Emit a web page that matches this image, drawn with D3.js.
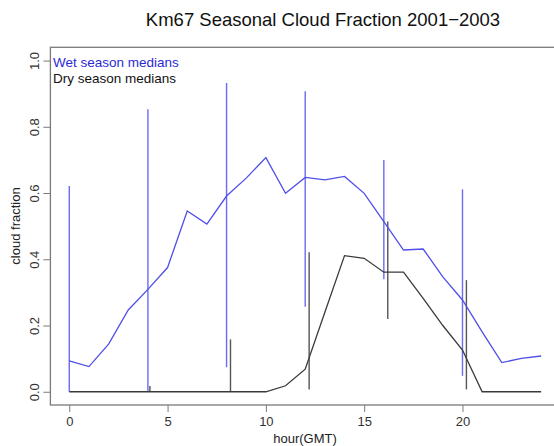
<!DOCTYPE html>
<html>
<head>
<meta charset="utf-8">
<script src="https://cdn.jsdelivr.net/npm/d3@7"></script>
<style>
  html, body { margin: 0; padding: 0; background: #fff; }
  svg { display: block; font-family: "Liberation Sans", Arial, sans-serif; }
</style>
</head>
<body>
<svg id="chart" width="554" height="446"></svg>
<script>
const hours = [0,1,2,3,4,5,6,7,8,9,10,11,12,13,14,15,16,17,18,19,20,21,22,23,24];
const wetMedian = [0.093,0.076,0.144,0.247,0.309,0.375,0.546,0.506,0.591,0.645,0.707,0.599,0.647,0.640,0.650,0.599,0.514,0.428,0.431,0.347,0.277,0.181,0.088,0.101,0.108];
const dryMedian = [0,0,0,0,0,0,0,0,0,0,0,0.018,0.068,0.24,0.411,0.403,0.361,0.361,0.282,0.20,0.126,0,0,0,0];
const wetBarHour = [0,4,8,12,16,20];
const wetBarLow  = [0,0,0.074,0.257,0.34,0.048];
const wetBarHigh = [0.621,0.853,0.932,0.907,0.70,0.611];
const dryBarHour = [4.1,8.2,12.2,16.2,20.2];
const dryBarLow  = [0,0,0.007,0.22,0.007];
const dryBarHigh = [0.017,0.158,0.421,0.514,0.337];
const xTicks = [0,5,10,15,20];
const yTicks = [0.0,0.2,0.4,0.6,0.8,1.0];
const titleText = "Km67 Seasonal Cloud Fraction 2001\u22122003";
const xLabel = "hour(GMT)";
const yLabel = "cloud fraction";
const legendLabels = ["Wet season medians","Dry season medians"];

const blue = "#4f4fe8", barBlue = "#6a6af5", dark = "#3a3a3a", axisGray = "#7a7a7a";
const svg = d3.select("#chart");

const x = d3.scaleLinear().domain([-0.96, 24.96]).range([50.4, 560]);
const y = d3.scaleLinear().domain([-0.04, 1.04]).range([405, 47.3]);

// box
svg.append("rect").attr("x", x(-0.96)).attr("y", y(1.04))
  .attr("width", x(24.96) - x(-0.96)).attr("height", y(-0.04) - y(1.04))
  .attr("fill", "none").attr("stroke", axisGray).attr("stroke-width", 1.3);

// axes
const xAxis = d3.axisBottom(x).tickValues(xTicks).tickFormat(d3.format("d")).tickSize(7).tickPadding(5);
const gx = svg.append("g").attr("transform", `translate(0,${y(-0.04)})`).call(xAxis);
gx.select(".domain").remove();
gx.selectAll("line").attr("stroke", axisGray);
gx.selectAll("text").attr("font-size", 13).attr("fill", "#333").attr("font-family", "Liberation Sans, Arial, sans-serif");

const yAxis = d3.axisLeft(y).tickValues(yTicks).tickFormat(d3.format(".1f")).tickSize(7).tickPadding(4);
const gy = svg.append("g").attr("transform", `translate(${x(-0.96)},0)`).call(yAxis);
gy.select(".domain").remove();
gy.selectAll("line").attr("stroke", axisGray);
gy.selectAll("text").attr("font-size", 13).attr("fill", "#333")
  .attr("font-family", "Liberation Sans, Arial, sans-serif")
  .attr("text-anchor", "middle").attr("dy", null).attr("x", null)
  .attr("transform", "translate(-16,0) rotate(-90)").attr("dy", "0.35em");

// error bars
svg.append("g").selectAll("line").data(wetBarHour).join("line")
  .attr("x1", d => x(d)).attr("x2", d => x(d))
  .attr("y1", (d,i) => y(wetBarLow[i])).attr("y2", (d,i) => y(wetBarHigh[i]))
  .attr("stroke", barBlue).attr("stroke-width", 1.4);
svg.append("g").selectAll("line").data(dryBarHour).join("line")
  .attr("x1", d => x(d)).attr("x2", d => x(d))
  .attr("y1", (d,i) => y(dryBarLow[i])).attr("y2", (d,i) => y(dryBarHigh[i]))
  .attr("stroke", "#555").attr("stroke-width", 1.4);

// lines
const line = d3.line().x((d,i) => x(hours[i])).y(d => y(d));
svg.append("path").datum(dryMedian).attr("d", line)
  .attr("fill", "none").attr("stroke", dark).attr("stroke-width", 1.3);
svg.append("path").datum(wetMedian).attr("d", line)
  .attr("fill", "none").attr("stroke", blue).attr("stroke-width", 1.3);

// title & labels
svg.append("text").attr("x", 323).attr("y", 26).attr("text-anchor", "middle")
  .attr("font-size", 18.5).attr("fill", "#111").text(titleText);
svg.append("text").attr("x", 305).attr("y", 443).attr("text-anchor", "middle")
  .attr("font-size", 13).attr("fill", "#222").text(xLabel);
svg.append("text").attr("transform", "translate(20,226) rotate(-90)").attr("text-anchor", "middle")
  .attr("font-size", 13).attr("fill", "#222").text(yLabel);

// legend
svg.append("g").selectAll("text").data(legendLabels).join("text")
  .attr("x", 53).attr("y", (d,i) => 67 + i*15.5)
  .attr("font-size", 13.5).attr("fill", (d,i) => i === 0 ? "#2b2bd6" : "#111")
  .text(d => d);
</script>
</body>
</html>
